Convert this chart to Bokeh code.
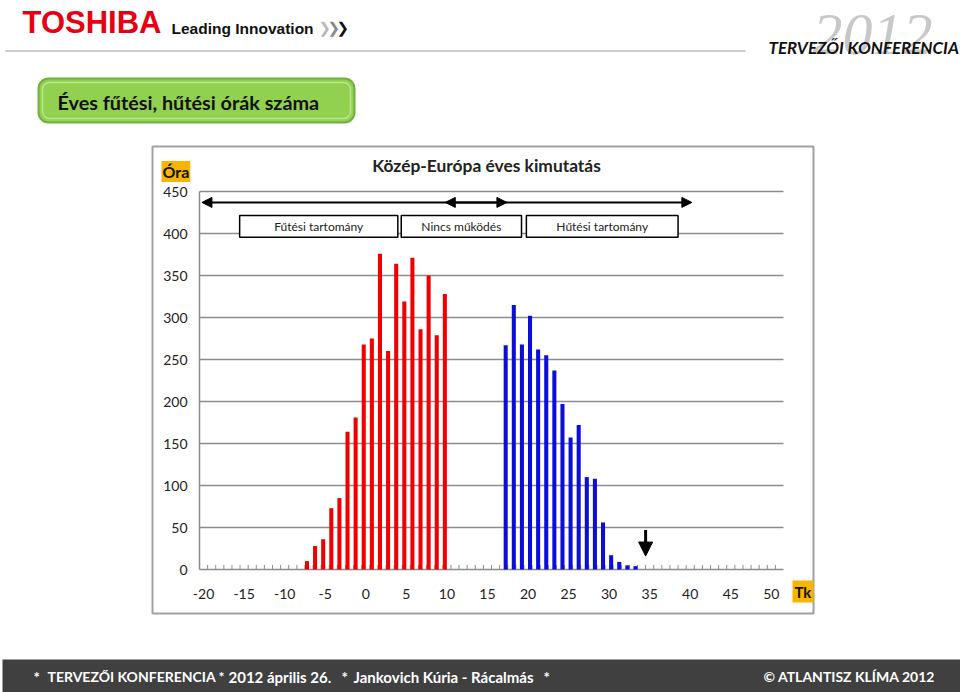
from bokeh.plotting import figure
from bokeh.models import (Range1d, BoxAnnotation, Label, Arrow, NormalHead, ColumnDataSource)
from bokeh.core.properties import value
from bokeh.transform import dodge
from bokeh.embed import file_html
from bokeh.resources import INLINE

# ---------------- data ----------------
heat_temps = list(range(-7, 11))
heat_hours = [10, 28, 36, 73, 85, 164, 181, 268, 275, 376, 260, 364, 319, 371, 286, 350, 279, 328]
cool_temps = list(range(17, 34))
cool_hours = [267, 315, 268, 302, 262, 255, 237, 197, 157, 172, 110, 108, 56, 17, 9, 5, 4]
x_label_ticks = list(range(-20, 55, 5))
x_tick_labels = [str(v) for v in x_label_ticks]
x_minor_ticks = [c + 0.5 for c in range(-20, 51)]
y_ticks = list(range(0, 500, 50))
y_tick_labels = [str(v) for v in y_ticks]
cat_min, cat_max = -20, 51
y_max = 450

FONT = "Lato"
GRID = "#8c8c8c"
W, H = 960, 692
# plot-area placement on the page (px)
FL, FR, FT, FB = 199, 783, 191, 569

# data ranges chosen so that the plot area lands on FL..FR / FT..FB
ppx = (FR - FL) / (cat_max - cat_min + 1)
ppy = (FB - FT) / y_max
xr = Range1d(cat_min - 0.5 - FL / ppx, cat_max + 0.5 + (W - FR) / ppx)
yr = Range1d(-(H - FB) / ppy, y_max + FT / ppy)

p = figure(width=W, height=H, output_backend="svg", toolbar_location=None,
           x_range=xr, y_range=yr, x_axis_location=None, y_axis_location=None,
           min_border=0)
p.outline_line_color = None
p.grid.visible = False
p.background_fill_color = "white"
p.border_fill_color = "white"
p.extra_x_ranges = {"cx": Range1d(0, W)}
p.extra_y_ranges = {"cy": Range1d(H, 0)}

# ---------------- axes drawn through the data scale ----------------
x0, x1 = cat_min - 0.5, cat_max + 0.5
p.segment(x0=x0, x1=x1, y0=y_ticks, y1=y_ticks, line_color=GRID, line_width=1.5)
p.segment(x0=x0, x1=x0, y0=0, y1=y_max, line_color=GRID, line_width=1.5)
p.segment(x0=x_minor_ticks, x1=x_minor_ticks, y0=0, y1=4.5 / ppy,
          line_color=GRID, line_width=1)
p.text(x=x0, y=y_ticks, text=y_tick_labels, x_offset=-12, text_align="right",
       text_baseline="middle", text_font=value(FONT), text_font_size="14px",
       text_color="#222222")
p.text(x=x_label_ticks, y=0, text=x_tick_labels, y_offset=24, text_align="center",
       text_baseline="middle", text_font=value(FONT), text_font_size="14px",
       text_color="#222222")

# ---------------- bars ----------------
heat_src = ColumnDataSource(dict(t=heat_temps, h=heat_hours))
cool_src = ColumnDataSource(dict(t=cool_temps, h=cool_hours))
p.vbar(x=dodge("t", -0.25, range=p.x_range), top="h", width=0.5, source=heat_src,
       fill_color="#f00000", line_color=None)
p.vbar(x=dodge("t", 0.25, range=p.x_range), top="h", width=0.5, source=cool_src,
       fill_color="#0c0cdc", line_color=None)

# ---------------- in-plot annotations ----------------
def head(size):
    return NormalHead(size=size, fill_color="black", line_color="black")


p.add_layout(Arrow(x_start=-20.2, y_start=437, x_end=17.4, y_end=437,
                   start=head(10), end=head(10), line_width=2, line_color="black"))
p.add_layout(Arrow(x_start=9.8, y_start=437, x_end=40.2, y_end=437,
                   start=head(10), end=head(10), line_width=2, line_color="black"))

boxes = [(-15.55, 3.95, "Fűtési tartomány"), (4.37, 19.2, "Nincs működés"),
         (19.8, 38.5, "Hűtési tartomány")]
for l, r, txt in boxes:
    p.add_layout(BoxAnnotation(left=l, right=r, bottom=395.6, top=421.4,
                               fill_color="white", fill_alpha=1.0,
                               line_color="black", line_alpha=1.0, line_width=1.5))
    p.add_layout(Label(x=(l + r) / 2, y=408.5, text=txt, text_align="center",
                       text_baseline="middle", text_font=FONT,
                       text_font_size="12px", text_color="#222222"))

p.add_layout(Arrow(x_start=34.5, y_start=47, x_end=34.5, y_end=16,
                   end=head(14), line_width=3, line_color="black"))


# ---------------- page decorations (page pixel coordinates) ----------------
def cbox(l, t, r, b, **kw):
    kw.setdefault("fill_alpha", 1.0)
    kw.setdefault("line_alpha", 1.0)
    return BoxAnnotation(left=l, right=r, top=t, bottom=b,
                         x_range_name="cx", y_range_name="cy", **kw)


def clabel(cx, cy, text, size, color="#111111", style="normal", font=FONT,
           align="left", baseline="middle", **kw):
    return Label(x=cx, y=cy, x_range_name="cx", y_range_name="cy", text=text,
                 text_font=font, text_font_size=f"{size}px", text_color=color,
                 text_font_style=style, text_align=align, text_baseline=baseline, **kw)


# chart frame
p.add_layout(cbox(152, 146, 813, 613, fill_alpha=0, line_color="#a0a0a0", line_width=2))
p.add_layout(clabel(486, 165, "Közép-Európa éves kimutatás", 17.4, color="#222222",
                    style="bold", align="center"))
p.add_layout(clabel(161, 171, "Óra", 16, style="bold", background_fill_color="#f7b500",
                    padding=1))
p.add_layout(clabel(792, 591, "Tk", 15, style="bold", background_fill_color="#f7b500",
                    padding=2))

# header
p.add_layout(clabel(872, 34, "2012", 60, color="#c8c8c8", style="italic",
                    font="Liberation Serif", align="center"))
p.add_layout(clabel(22, 21.5, "TOSHIBA", 31, color="#e60012", style="bold",
                    font="Liberation Sans"))
p.add_layout(clabel(171, 28, "Leading Innovation", 15.5, color="#111111", style="bold",
                    font="Liberation Sans"))
for cx, col in [(318, "#b8b8b8"), (327, "#888888"), (336, "#111111")]:
    p.add_layout(clabel(cx, 27, "❯", 15, color=col, style="bold", font="DejaVu Sans"))
p.add_layout(cbox(5, 49.5, 745, 51.5, fill_color="#cccccc", line_color=None))
p.add_layout(clabel(768, 46.5, "TERVEZŐI KONFERENCIA", 17, color="#111111",
                    style="bold italic"))

# title box
p.add_layout(cbox(38, 78, 354, 122, fill_color="#92d050", line_color="#70b03c",
                  line_width=2, border_radius=10))
p.add_layout(cbox(42, 82, 350, 118, fill_alpha=0, line_color="#b8e690",
                  line_width=1.5, border_radius=7))
p.add_layout(clabel(57, 101, "Éves fűtési, hűtési órák száma", 19.8, style="bold"))

# footer
p.add_layout(cbox(2, 659, 960, 692, fill_color="#404040", line_color=None))
for cx, txt, sz in [(33, "*", 15), (47, "TERVEZŐI KONFERENCIA *", 14),
                    (228, "2012 április 26.", 15), (341, "*", 15),
                    (353, "Jankovich Kúria - Rácalmás", 15), (543, "*", 15),
                    (763, "© ATLANTISZ KLÍMA 2012", 14)]:
    p.add_layout(clabel(cx, 676, txt, sz, color="white", style="bold"))

open("out.html", "w").write(file_html(p, INLINE))
